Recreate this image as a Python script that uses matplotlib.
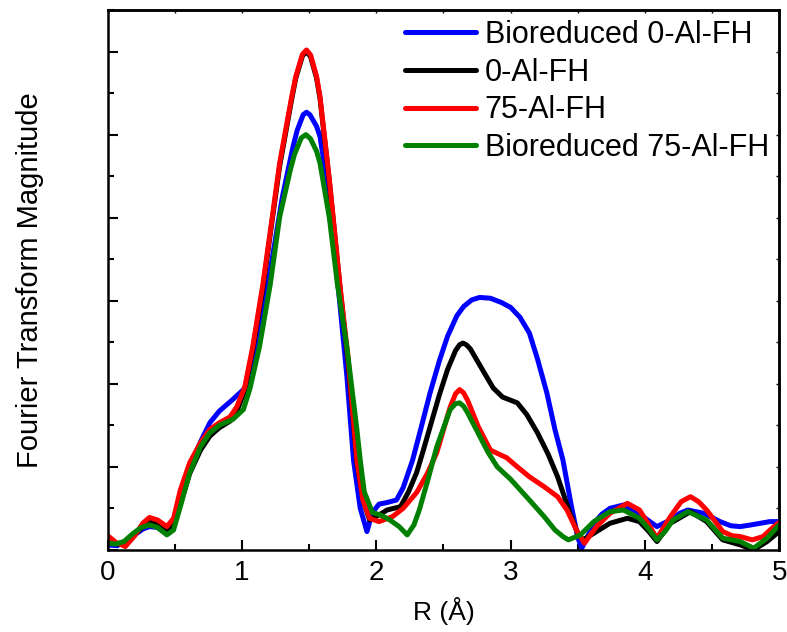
import matplotlib
matplotlib.use("Agg")
import matplotlib.pyplot as plt
from matplotlib.ticker import MultipleLocator, NullFormatter

plt.rcParams["font.family"] = ["Liberation Sans", "DejaVu Sans"]

# ------------------------------------------------------------------
# Data (R in Angstrom, magnitude in arb. units)
# ------------------------------------------------------------------
bio0_r = [0.00, 0.07, 0.13, 0.20, 0.26, 0.31, 0.37, 0.44, 0.49, 0.54, 0.61, 0.69,
          0.76, 0.83, 0.93, 1.01, 1.06, 1.12, 1.19, 1.30, 1.38, 1.41, 1.455, 1.48,
          1.505, 1.555, 1.58, 1.65, 1.72, 1.78, 1.83, 1.88, 1.93, 1.97, 2.02, 2.08,
          2.15, 2.20, 2.27, 2.33, 2.40, 2.47, 2.53, 2.60, 2.65, 2.71, 2.77, 2.85,
          2.93, 3.00, 3.07, 3.14, 3.20, 3.27, 3.33, 3.39, 3.45, 3.50, 3.53, 3.57,
          3.62, 3.68, 3.74, 3.84, 3.94, 4.02, 4.09, 4.19, 4.26, 4.32, 4.44, 4.56,
          4.64, 4.71, 4.79, 4.86, 4.93, 5.00]
bio0_ft = [0.06, 0.05, 0.10, 0.18, 0.25, 0.28, 0.27, 0.19, 0.28, 0.58, 0.98, 1.30,
           1.53, 1.67, 1.81, 1.93, 2.05, 2.60, 3.17, 4.25, 4.86, 5.05, 5.24, 5.27,
           5.24, 5.10, 4.98, 4.25, 3.10, 2.10, 1.08, 0.50, 0.22, 0.45, 0.55, 0.57,
           0.60, 0.75, 1.08, 1.45, 1.89, 2.28, 2.57, 2.82, 2.93, 3.01, 3.04, 3.03,
           2.98, 2.92, 2.80, 2.61, 2.30, 1.89, 1.45, 1.08, 0.55, 0.15, 0.02, 0.15,
           0.32, 0.43, 0.50, 0.54, 0.46, 0.36, 0.28, 0.36, 0.44, 0.48, 0.44, 0.34,
           0.29, 0.28, 0.30, 0.32, 0.34, 0.34]

al0_r = [0.00, 0.07, 0.13, 0.20, 0.26, 0.31, 0.37, 0.44, 0.49, 0.54, 0.61, 0.69,
         0.76, 0.83, 0.91, 0.96, 1.02, 1.08, 1.155, 1.22, 1.28, 1.37, 1.40, 1.45,
         1.48, 1.51, 1.555, 1.58, 1.65, 1.73, 1.79, 1.855, 1.91, 1.95, 2.02, 2.08,
         2.18, 2.24, 2.30, 2.35, 2.40, 2.47, 2.53, 2.59, 2.62, 2.645, 2.67, 2.70,
         2.79, 2.87, 2.94, 3.05, 3.12, 3.20, 3.28, 3.35, 3.44, 3.50, 3.54, 3.62,
         3.74, 3.87, 3.96, 4.03, 4.09, 4.19, 4.34, 4.46, 4.58, 4.71, 4.81, 4.91,
         5.00]
al0_ft = [0.10, 0.07, 0.10, 0.18, 0.28, 0.33, 0.32, 0.22, 0.30, 0.55, 0.92, 1.20,
          1.37, 1.47, 1.55, 1.66, 1.92, 2.42, 3.15, 3.92, 4.62, 5.43, 5.68, 5.95,
          6.00, 5.94, 5.68, 5.44, 4.44, 3.15, 2.25, 1.05, 0.55, 0.36, 0.42, 0.48,
          0.52, 0.70, 0.93, 1.20, 1.48, 1.87, 2.17, 2.40, 2.47, 2.49, 2.47, 2.42,
          2.17, 1.95, 1.84, 1.77, 1.63, 1.41, 1.15, 0.88, 0.45, 0.20, 0.12, 0.20,
          0.32, 0.38, 0.34, 0.22, 0.10, 0.32, 0.46, 0.34, 0.12, 0.06, 0.00, 0.10,
          0.22]

al75_r = [0.00, 0.06, 0.13, 0.20, 0.26, 0.31, 0.37, 0.44, 0.49, 0.54, 0.61, 0.69,
          0.76, 0.83, 0.91, 0.96, 1.02, 1.08, 1.155, 1.22, 1.28, 1.37, 1.40, 1.45,
          1.48, 1.51, 1.555, 1.58, 1.65, 1.73, 1.79, 1.855, 1.90, 1.95, 2.02, 2.12,
          2.20, 2.30, 2.38, 2.45, 2.55, 2.59, 2.62, 2.65, 2.68, 2.76, 2.85, 2.97,
          3.05, 3.14, 3.25, 3.35, 3.42, 3.49, 3.55, 3.64, 3.74, 3.87, 3.96, 4.03,
          4.09, 4.19, 4.27, 4.34, 4.40, 4.46, 4.58, 4.65, 4.71, 4.80, 4.88, 4.94,
          5.00]
al75_ft = [0.17, 0.09, 0.04, 0.17, 0.32, 0.39, 0.36, 0.28, 0.38, 0.72, 1.05, 1.29,
           1.45, 1.53, 1.60, 1.72, 1.96, 2.45, 3.20, 3.95, 4.66, 5.46, 5.70, 5.97,
           6.02, 5.96, 5.70, 5.46, 4.46, 3.17, 2.30, 1.08, 0.60, 0.38, 0.34, 0.40,
           0.50, 0.69, 0.92, 1.17, 1.72, 1.88, 1.93, 1.89, 1.80, 1.48, 1.20, 1.11,
           1.00, 0.88, 0.76, 0.64, 0.48, 0.24, 0.08, 0.28, 0.44, 0.56, 0.48, 0.30,
           0.14, 0.40, 0.58, 0.64, 0.58, 0.48, 0.22, 0.17, 0.16, 0.12, 0.16, 0.25,
           0.33]

bio75_r = [0.00, 0.06, 0.12, 0.19, 0.25, 0.31, 0.37, 0.44, 0.49, 0.54, 0.61, 0.69,
           0.76, 0.83, 0.93, 1.01, 1.06, 1.13, 1.21, 1.28, 1.36, 1.39, 1.44, 1.475,
           1.51, 1.555, 1.58, 1.65, 1.71, 1.78, 1.855, 1.88, 1.91, 1.97, 2.03, 2.10,
           2.17, 2.23, 2.28, 2.32, 2.38, 2.45, 2.55, 2.59, 2.62, 2.65, 2.68, 2.76,
           2.83, 2.90, 3.00, 3.14, 3.25, 3.33, 3.39, 3.43, 3.49, 3.52, 3.62, 3.74,
           3.84, 3.96, 4.03, 4.09, 4.15, 4.21, 4.32, 4.46, 4.58, 4.71, 4.81, 4.91,
           5.00]
bio75_ft = [0.08, 0.07, 0.10, 0.20, 0.27, 0.30, 0.27, 0.18, 0.24, 0.52, 0.93, 1.24,
            1.41, 1.50, 1.57, 1.69, 1.95, 2.45, 3.20, 4.01, 4.58, 4.76, 4.96, 5.00,
            4.95, 4.80, 4.66, 4.00, 3.20, 2.45, 1.45, 1.08, 0.70, 0.45, 0.42, 0.36,
            0.28, 0.18, 0.30, 0.48, 0.82, 1.24, 1.69, 1.76, 1.77, 1.73, 1.65, 1.40,
            1.18, 1.00, 0.85, 0.60, 0.40, 0.24, 0.16, 0.12, 0.16, 0.18, 0.34, 0.46,
            0.48, 0.38, 0.25, 0.12, 0.22, 0.36, 0.46, 0.36, 0.14, 0.10, 0.02, 0.14,
            0.30]

SERIES = [
    ("Bioreduced 0-Al-FH", bio0_r, bio0_ft, "#0000FF"),
    ("0-Al-FH", al0_r, al0_ft, "#000000"),
    ("75-Al-FH", al75_r, al75_ft, "#FF0000"),
    ("Bioreduced 75-Al-FH", bio75_r, bio75_ft, "#008000"),
]

# ------------------------------------------------------------------
fig = plt.figure(figsize=(7.87, 6.32), dpi=100)
ax = fig.add_axes([0.137, 0.130, 0.853, 0.854])

for label, r, ft, color in SERIES:
    ax.plot(r, ft, color=color, lw=3.6, label=label,
            solid_joinstyle="round", solid_capstyle="round")

ax.set_xlim(0, 5)
ax.set_ylim(0, 6.5)

ax.xaxis.set_major_locator(MultipleLocator(1))
ax.xaxis.set_minor_locator(MultipleLocator(0.5))
ax.yaxis.set_major_locator(MultipleLocator(1))
ax.yaxis.set_minor_locator(MultipleLocator(0.5))
ax.yaxis.set_major_formatter(NullFormatter())
ax.tick_params(which="major", direction="in", length=7.5, width=1.5,
               labelsize=20, pad=7)
ax.tick_params(which="minor", direction="in", length=4, width=1.5)

# short inward ticks on the top and right frame
top = ax.secondary_xaxis("top")
top.xaxis.set_major_locator(MultipleLocator(0.5))
top.tick_params(direction="in", length=2.5, width=1, labeltop=False)
right = ax.secondary_yaxis("right")
right.yaxis.set_major_locator(MultipleLocator(0.5))
right.tick_params(direction="in", length=2.5, width=1, labelright=False)

for sp in list(ax.spines.values()) + [top.spines["top"], right.spines["right"]]:
    sp.set_linewidth(1.8)

ax.set_xlabel("R (Å)", fontsize=19)
ax.xaxis.set_label_coords(0.5, -0.088)
ax.set_ylabel("Fourier Transform Magnitude", fontsize=21)
ax.yaxis.set_label_coords(-0.095, 0.5)

ax.legend(loc="upper right", frameon=False, fontsize=22, handlelength=2.3,
          handletextpad=0.3, labelspacing=0.25, borderaxespad=0.0,
          bbox_to_anchor=(1.003, 1.004))

fig.savefig("out.png", dpi=100)
